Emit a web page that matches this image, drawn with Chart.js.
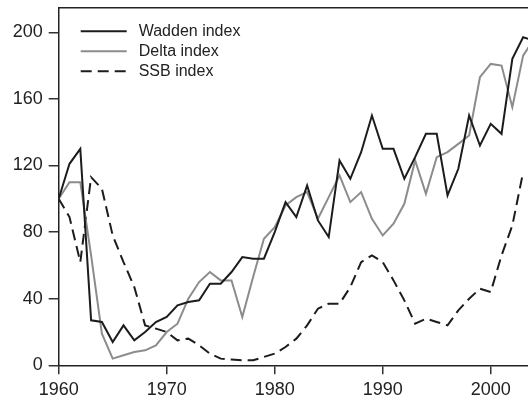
<!DOCTYPE html>
<html>
<head>
<meta charset="utf-8">
<script src="https://cdn.jsdelivr.net/npm/chart.js@4"></script>
<style>
  html, body { margin: 0; padding: 0; background: #fff; }
  #wrap { width: 528px; height: 402px; position: relative; }
</style>
</head>
<body>
<div id="wrap"><canvas id="indexChart"></canvas></div>
<script>
// Yearly index values (1960 = 100)
const years = [1960, 1961, 1962, 1963, 1964, 1965, 1966, 1967, 1968, 1969,
               1970, 1971, 1972, 1973, 1974, 1975, 1976, 1977, 1978, 1979,
               1980, 1981, 1982, 1983, 1984, 1985, 1986, 1987, 1988, 1989,
               1990, 1991, 1992, 1993, 1994, 1995, 1996, 1997, 1998, 1999,
               2000, 2001, 2002, 2003, 2004];
const waddenIndex = [100, 121, 130, 27, 26, 14, 24, 15, 20, 26,
                     29, 36, 38, 39, 49, 49, 56, 65, 64, 64,
                     80, 98, 89, 108, 87, 77, 123, 112, 128, 150,
                     130, 130, 112, 125, 139, 139, 102, 118, 150, 132,
                     145, 139, 184, 197, 195];
const deltaIndex = [100, 110, 110, 66, 19, 4, 6, 8, 9, 12,
                    20, 25, 40, 50, 56, 51, 51, 29, 53, 76,
                    83, 96, 101, 104, 88, 101, 114, 98, 104, 88,
                    78, 85, 97, 123, 103, 125, 128, 133, 138, 173,
                    181, 180, 155, 186, 196];
const ssbIndex = [100, 89, 62, 113, 106, 78, 62, 47, 24, 22,
                  20, 15, 16, 12, 7, 4, 3.5, 3, 3, 5,
                  7, 11, 16, 24, 34, 37, 37, 47, 62, 66,
                  62, 51, 39, 25, 28, 26, 24, 33, 40, 46,
                  44, 66, 84, 116, null];
const xTicks = [1960, 1970, 1980, 1990, 2000];
const yTicks = [0, 40, 80, 120, 160, 200];

const FONT = "'Liberation Sans', Arial, Helvetica, sans-serif";
const INK = '#1c1c1c';
const GREY = '#8c8c8c';

function toPoints(values) {
    return years.map((yr, i) => ({ x: yr, y: values[i] }));
}

// Fix an axis to a set size and drop the label overhang padding
function fixSize(prop, size) {
    return (s) => {
        s[prop] = size;
        s.paddingTop = 0;
        s.paddingBottom = 0;
        s.paddingLeft = 0;
        s.paddingRight = 0;
    };
}

// Legend drawn inside the plot, top-left
const insideLegend = {
    id: 'insideLegend',
    afterDatasetsDraw(chart) {
        const ctx = chart.ctx;
        const left = chart.chartArea.left;
        const top = chart.chartArea.top;
        ctx.save();
        ctx.font = `16px ${FONT}`;
        ctx.textBaseline = 'middle';
        ctx.fillStyle = '#222';
        chart.data.datasets.forEach((ds, i) => {
            const y = top + 24 + i * 20;
            ctx.beginPath();
            ctx.strokeStyle = ds.borderColor;
            ctx.lineWidth = 2;
            ctx.setLineDash(ds.borderDash || []);
            ctx.moveTo(left + 22, y);
            ctx.lineTo(left + 68, y);
            ctx.stroke();
            ctx.setLineDash([]);
            ctx.fillText(ds.label, left + 80, y);
        });
        ctx.restore();
    }
};

const tickFont = { family: FONT, size: 18 };

new Chart(document.getElementById('indexChart'), {
    type: 'line',
    data: {
        datasets: [
            {
                label: 'Wadden index',
                data: toPoints(waddenIndex),
                borderColor: INK,
                borderWidth: 2
            },
            {
                label: 'Delta index',
                data: toPoints(deltaIndex),
                borderColor: GREY,
                borderWidth: 2
            },
            {
                label: 'SSB index',
                data: toPoints(ssbIndex),
                borderColor: INK,
                borderWidth: 2,
                borderDash: [11, 6]
            }
        ]
    },
    options: {
        responsive: true,
        maintainAspectRatio: false,
        animation: false,
        layout: { padding: 0 },
        elements: {
            point: { radius: 0 },
            line: { tension: 0, fill: false }
        },
        plugins: {
            legend: { display: false },
            tooltip: { enabled: false }
        },
        scales: {
            x: {
                type: 'linear',
                position: 'bottom',
                min: 1960,
                max: 2003.45,
                afterBuildTicks: (s) => { s.ticks = xTicks.map(v => ({ value: v })); },
                afterFit: fixSize('height', 36.7),
                grid: { drawOnChartArea: false, drawTicks: true, tickLength: 9, color: '#333', lineWidth: 1.5 },
                border: { color: '#222', width: 1.5 },
                ticks: {
                    font: tickFont,
                    color: '#222',
                    padding: 5,
                    maxRotation: 0,
                    autoSkip: false,
                    callback: (v) => String(v)
                }
            },
            xTop: {
                type: 'linear',
                position: 'top',
                min: 1960,
                max: 2003.45,
                afterFit: fixSize('height', 7.3),
                grid: { display: false, drawTicks: false },
                border: { display: true, color: '#222', width: 1.5 },
                ticks: { display: false }
            },
            y: {
                type: 'linear',
                min: 0,
                max: 215,
                afterBuildTicks: (s) => { s.ticks = yTicks.map(v => ({ value: v })); },
                afterFit: fixSize('width', 58.7),
                grid: { drawOnChartArea: false, drawTicks: true, tickLength: 10, color: '#333', lineWidth: 1.5 },
                border: { color: '#222', width: 1.5 },
                ticks: {
                    font: tickFont,
                    color: '#222',
                    padding: 6,
                    callback: (v) => String(v)
                }
            }
        }
    },
    plugins: [insideLegend]
});
</script>
</body>
</html>
